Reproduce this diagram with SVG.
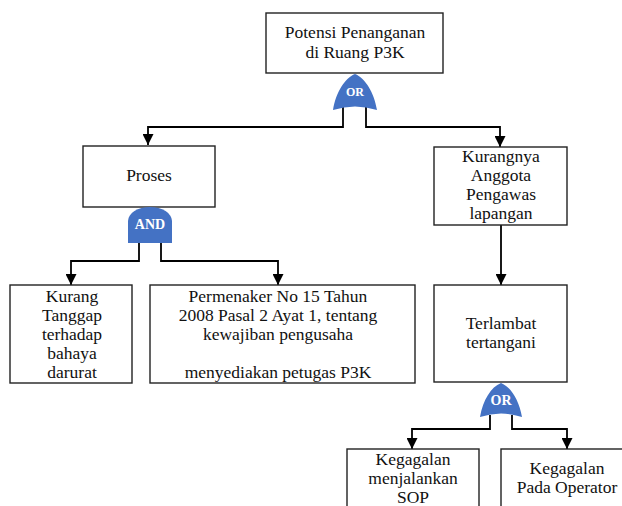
<svg xmlns="http://www.w3.org/2000/svg" width="622" height="506" viewBox="0 0 622 506" font-family="Liberation Serif">
<style>
.box{fill:#fff;stroke:#222;stroke-width:1.4}
.t{font-size:17.5px;fill:#111;text-anchor:middle}
.gate{fill:#4472C4}
.gt{font-weight:bold;fill:#fff;text-anchor:middle}
.c{fill:none;stroke:#000;stroke-width:1.8}
</style>
<defs>
<marker id="ah" viewBox="0 0 10 10" refX="10" refY="5" markerWidth="11" markerHeight="11" markerUnits="userSpaceOnUse" orient="auto">
<path d="M0,0 L10,5 L0,10 z" fill="#000"/>
</marker>
</defs>
<g id="connectors">
<path class="c" d="M343,106 V127 H148 V145" marker-end="url(#ah)"/>
<path class="c" d="M366,106 V127 H500 V147" marker-end="url(#ah)"/>
<path class="c" d="M139,242 V261 H71 V285" marker-end="url(#ah)"/>
<path class="c" d="M161,242 V261 H278 V285" marker-end="url(#ah)"/>
<path class="c" d="M501,225 V285" marker-end="url(#ah)"/>
<path class="c" d="M490,415 V429 H412 V449" marker-end="url(#ah)"/>
<path class="c" d="M512,415 V429 H567 V449" marker-end="url(#ah)"/>
</g>
<g id="top">
<rect class="box" x="266" y="13" width="177" height="60"/>
<text class="t" font-family="Liberation Serif" x="355" y="38">Potensi Penanganan</text>
<text class="t" font-family="Liberation Serif" x="355" y="58">di Ruang P3K</text>
</g>
<g id="gate-or1">
<path class="gate" d="M333,110 C336,92 345,78 355,74 C365,78 374,92 377,110 Q355,103 333,110 Z"/>
<text class="gt" font-family="Liberation Serif" x="355" y="96" font-size="12">OR</text>
</g>
<g id="proses">
<rect class="box" x="83" y="146" width="132" height="61"/>
<text class="t" font-family="Liberation Serif" x="149" y="181">Proses</text>
</g>
<g id="gate-and">
<path class="gate" d="M128,243 V221 A22,14 0 0 1 172,221 V243 Z"/>
<text class="gt" font-family="Liberation Serif" x="150" y="229" font-size="14">AND</text>
</g>
<g id="kurangnya">
<rect class="box" x="434" y="147" width="133" height="78"/>
<text class="t" font-family="Liberation Serif" x="501" y="162">Kurangnya</text>
<text class="t" font-family="Liberation Serif" x="501" y="181">Anggota</text>
<text class="t" font-family="Liberation Serif" x="501" y="200">Pengawas</text>
<text class="t" font-family="Liberation Serif" x="501" y="219">lapangan</text>
</g>
<g id="kurang">
<rect class="box" x="10" y="285" width="122" height="98"/>
<text class="t" font-family="Liberation Serif" x="72" y="302">Kurang</text>
<text class="t" font-family="Liberation Serif" x="72" y="321">Tanggap</text>
<text class="t" font-family="Liberation Serif" x="72" y="340">terhadap</text>
<text class="t" font-family="Liberation Serif" x="72" y="359">bahaya</text>
<text class="t" font-family="Liberation Serif" x="72" y="378">darurat</text>
</g>
<g id="permenaker">
<rect class="box" x="150" y="285" width="265" height="98"/>
<text class="t" font-family="Liberation Serif" x="278" y="302">Permenaker No 15 Tahun</text>
<text class="t" font-family="Liberation Serif" x="278" y="321">2008 Pasal 2 Ayat 1, tentang</text>
<text class="t" font-family="Liberation Serif" x="278" y="340">kewajiban pengusaha</text>
<text class="t" font-family="Liberation Serif" x="278" y="378">menyediakan petugas P3K</text>
</g>
<g id="terlambat">
<rect class="box" x="434" y="285" width="133" height="97"/>
<text class="t" font-family="Liberation Serif" x="501" y="329">Terlambat</text>
<text class="t" font-family="Liberation Serif" x="501" y="348">tertangani</text>
</g>
<g id="gate-or2">
<path class="gate" d="M480,417 C483,400 491,387 501,383 C511,387 519,400 522,417 Q501,410 480,417 Z"/>
<text class="gt" font-family="Liberation Serif" x="501" y="405" font-size="14">OR</text>
</g>
<g id="sop">
<rect class="box" x="347" y="449" width="132" height="70"/>
<text class="t" font-family="Liberation Serif" x="413" y="465">Kegagalan</text>
<text class="t" font-family="Liberation Serif" x="413" y="484">menjalankan</text>
<text class="t" font-family="Liberation Serif" x="413" y="503">SOP</text>
</g>
<g id="operator">
<rect class="box" x="501" y="449" width="140" height="70"/>
<text class="t" font-family="Liberation Serif" x="567" y="474">Kegagalan</text>
<text class="t" font-family="Liberation Serif" x="567" y="493">Pada Operator</text>
</g>
</svg>
